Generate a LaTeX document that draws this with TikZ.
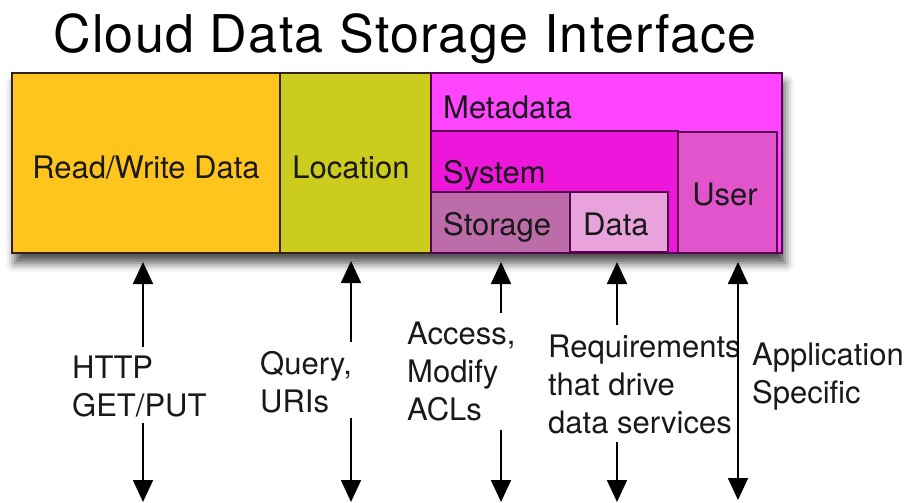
\documentclass[tikz,border=0pt]{standalone}
\usepackage{fontspec}
\setmainfont{TeX Gyre Heros}
\usetikzlibrary{arrows.meta,shadows.blur}
\definecolor{rwc}{RGB}{255,197,28}
\definecolor{locc}{RGB}{204,204,31}
\definecolor{metac}{RGB}{255,69,255}
\definecolor{sysc}{RGB}{238,22,218}
\definecolor{usrc}{RGB}{226,84,204}
\definecolor{storc}{RGB}{188,108,168}
\definecolor{datc}{RGB}{232,162,220}
\definecolor{darkb}{RGB}{50,35,15}
\definecolor{purp}{RGB}{85,0,80}
\begin{document}
\begin{tikzpicture}[x=1pt,y=-1pt,
  box/.style={draw=#1, line width=1.8pt, inner sep=0pt, outer sep=0pt, anchor=north west},
  lbl/.style={font=\fontsize{31}{38}\selectfont, inner sep=0pt, text=black!90},
  blbl/.style={font=\fontsize{31}{38}\selectfont, inner sep=0pt, anchor=base west, align=left, text=black!90},
  arr/.style={line width=1.8pt, -{Triangle[length=22pt,width=20pt]}},
  darr/.style={line width=1.8pt, {Triangle[length=22pt,width=20pt]}-{Triangle[length=22pt,width=20pt]}}
]
\useasboundingbox (0,0) rectangle (908,503);
% title
\node[font=\fontsize{52}{56}\selectfont\addfontfeatures{LetterSpace=2.5}, inner sep=0pt, anchor=base] (title) at (405,53) {Cloud Data Storage Interface};
% shadow carrier
\node[box=darkb, fill=white, minimum width=770pt, minimum height=180pt,
  blur shadow={shadow xshift=3pt, shadow yshift=-10pt, shadow blur radius=9pt, shadow opacity=70}] (all) at (12,73) {};
\node[box=darkb, fill=rwc, minimum width=268pt, minimum height=180pt] (rw) at (12,73) {};
\node[box=darkb, fill=locc, minimum width=151pt, minimum height=180pt] (loc) at (280,73) {};
\node[box=purp, fill=metac, minimum width=351pt, minimum height=180pt] (meta) at (431,73) {};
\node[box=purp, fill=sysc, minimum width=247pt, minimum height=122pt] (sys) at (431,131) {};
\node[box=purp, fill=usrc, minimum width=99pt, minimum height=121pt] (usr) at (678,132) {};
\node[box=purp, fill=storc, minimum width=139pt, minimum height=61pt] (stor) at (431,192) {};
\node[box=purp, fill=datc, minimum width=98pt, minimum height=60pt] (dat) at (570,192) {};
% box texts
\node[lbl, anchor=base] (trw) at (146,178) {Read/Write Data};
\node[lbl, anchor=base] (tloc) at (351,178) {Location};
\node[lbl, anchor=base west] (tmeta) at (443,118) {Metadata};
\node[lbl, anchor=base west] (tsys) at (443,183) {System};
\node[lbl, anchor=base west] (tstor) at (443,235) {Storage};
\node[lbl, anchor=base west] (tdat) at (583,235) {Data};
\node[lbl, anchor=base] (tusr) at (725,205) {User};
% bottom labels (anchor = baseline of last line)
\node[blbl] (l1) at (72,416) {HTTP\\GET/PUT};
\node[blbl] (l2) at (260,412) {Query,\\URIs};
\node[blbl] (l3) at (407,420) {Access,\\Modify\\ACLs};
\node[blbl] (l4) at (548,433) {Requirements\\that drive\\data services};
\node[blbl] (l5) at (752,403) {Application\\Specific};
% arrow end points
\coordinate (u1a) at (143,347); \coordinate (u1b) at (143,262);
\coordinate (d1a) at (143,423); \coordinate (d1b) at (143,502);
\coordinate (u2a) at (351,342); \coordinate (u2b) at (351,261);
\coordinate (d2a) at (351,418); \coordinate (d2b) at (351,502);
\coordinate (u3a) at (501,313); \coordinate (u3b) at (501,262);
\coordinate (d3a) at (501,430); \coordinate (d3b) at (501,502);
\coordinate (u4a) at (617,325); \coordinate (u4b) at (617,262);
\coordinate (d4a) at (617,442); \coordinate (d4b) at (617,502);
\coordinate (e5a) at (738,262); \coordinate (e5b) at (738,500);
\draw[arr] (u1a) -- (u1b);
\draw[arr] (d1a) -- (d1b);
\draw[arr] (u2a) -- (u2b);
\draw[arr] (d2a) -- (d2b);
\draw[arr] (u3a) -- (u3b);
\draw[arr] (d3a) -- (d3b);
\draw[arr] (u4a) -- (u4b);
\draw[arr] (d4a) -- (d4b);
\draw[darr] (e5a) -- (e5b);
\end{tikzpicture}
\end{document}
